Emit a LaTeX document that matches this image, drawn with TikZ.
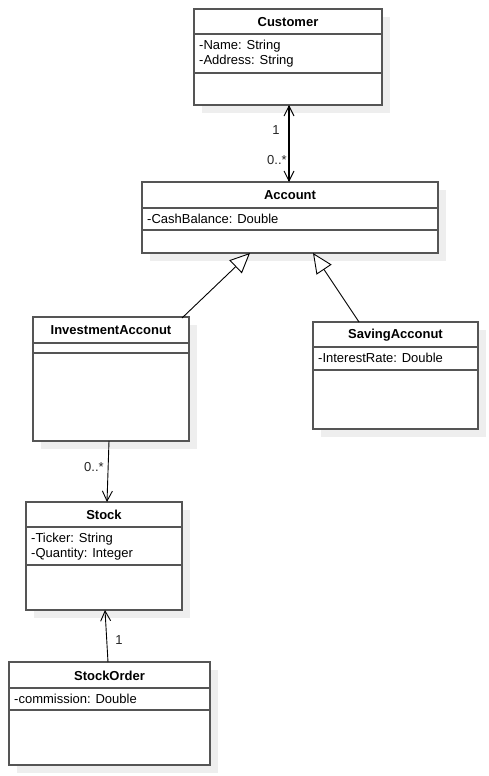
\documentclass[tikz,border=0pt]{standalone}
\usepackage{fontspec}
\setmainfont{Liberation Sans}
\usetikzlibrary{arrows.meta,calc}
\definecolor{borderc}{HTML}{555555}
\definecolor{shadowc}{HTML}{EEEEEE}
\tikzset{
  classbox/.style={draw=borderc, line width=1.4pt, fill=white, inner sep=0pt, outer sep=0pt, anchor=north west},
  divider/.style={draw=borderc, line width=1.4pt},
  classtitle/.style={font=\fontsize{13}{15}\selectfont\bfseries, inner sep=0pt, anchor=center},
  attrs/.style={font=\fontsize{13}{15}\selectfont, inner sep=0pt, anchor=base west},
  lbl/.style={font=\fontsize{13}{15}\selectfont, inner sep=0pt, anchor=center, text=black!85},
  assoc/.style={draw=black, line width=0.9pt},
  openhead/.tip={Straight Barb[length=10pt,width=10pt,line width=0.9pt]},
  genhead/.tip={Triangle[open,length=20pt,width=18pt,fill=white,line width=0.9pt]},
}
\newcommand\umlclass[9]{%
  \fill[shadowc] (#2+8,#3+8) rectangle (#4+8,#5+8);
  \node[classbox, minimum width={(#4-#2)*1pt}, minimum height={(#5-#3)*1pt}] (#1) at (#2,#3) {};
  \draw[divider] (#2,#6) -- (#4,#6) (#2,#7) -- (#4,#7);
  \node[classtitle] (#1-t) at ({(#2+#4)/2},{(#3+#6)/2+0.5}) {#8};
  \node[attrs] (#1-a) at (#2+5,#6+15.5) {\begin{tabular}[t]{@{}l@{}}#9\end{tabular}};
}
\begin{document}
\begin{tikzpicture}[x=1pt,y=-1pt]
\useasboundingbox[fill=white] (0,0) rectangle (488,776);
\umlclass{cust}{194}{9}{382}{105}{34}{73}{Customer}{-Name: String\\-Address: String}
\umlclass{acc}{142}{182}{438}{253}{208}{230}{Account}{-CashBalance: Double}
\umlclass{inv}{33}{317}{189}{441}{343}{353}{InvestmentAcconut}{}
\umlclass{sav}{313}{322}{478}{429}{347}{370}{SavingAcconut}{-InterestRate: Double}
\umlclass{stock}{26}{502}{182}{610}{527}{565}{Stock}{-Ticker: String\\-Quantity: Integer}
\umlclass{so}{9}{662}{210}{765}{688}{710}{StockOrder}{-commission: Double}
% associations
\draw[assoc, line width=1.3pt, openhead-openhead] ($(cust.south west)+(95,0)$) -- ($(acc.north west)+(147,0)$);
\node[lbl] (l1) at (276,130) {1};
\node[lbl] (l2) at (277,160) {0..*};
\draw[assoc, -openhead] ($(inv.south west)+(76,0)$) -- ($(stock.north west)+(81,0)$);
\node[lbl] (l3) at (94,467) {0..*};
\draw[assoc, -openhead] ($(so.north west)+(99,0)$) -- ($(stock.south west)+(79,0)$);
\node[lbl] (l4) at (119,640) {1};
% generalizations
\draw[assoc, -genhead] ($(inv.north east)+(-7,1)$) -- ($(acc.south west)+(108,0)$);
\draw[assoc, -genhead] ($(sav.north west)+(46,0)$) -- ($(acc.south west)+(171,0)$);
\end{tikzpicture}
\end{document}
